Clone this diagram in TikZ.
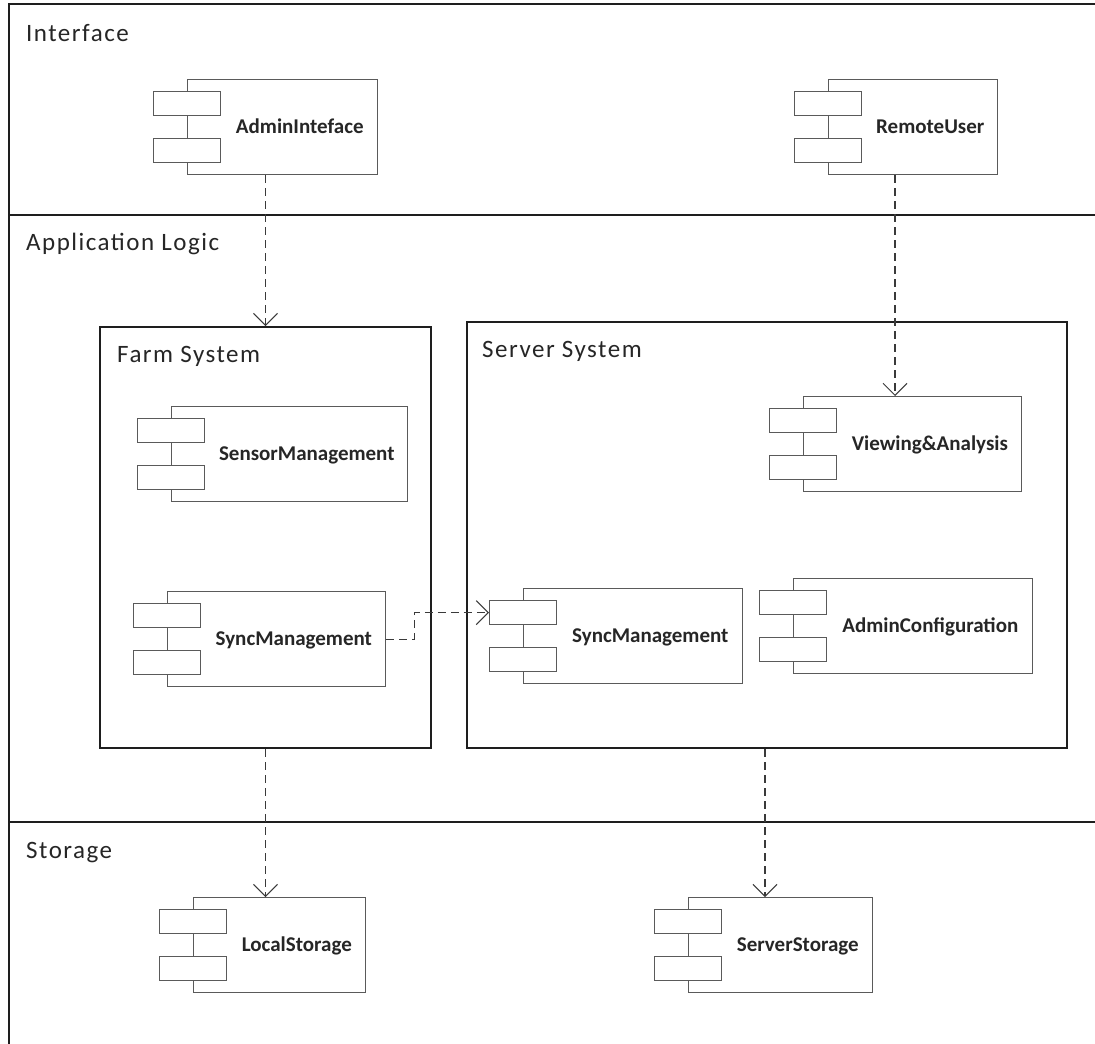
\documentclass[tikz,border=0pt]{standalone}
\usepackage{fontspec}
\setmainfont{Carlito}
\newfontfamily\headfont[LetterSpace=6]{Carlito}
\usetikzlibrary{arrows.meta,calc}
\definecolor{txt}{HTML}{262626}
\definecolor{compgray}{HTML}{5A5A5A}
\definecolor{sysblack}{HTML}{1E1E1E}
\definecolor{conngray}{HTML}{3A3A3A}
\tikzset{
  compbox/.style={draw=compgray, line width=1.3pt, fill=white, inner sep=0pt, minimum height=95pt, anchor=north west},
  portbox/.style={draw=compgray, line width=1.3pt, fill=white, inner sep=0pt, minimum width=67pt, minimum height=24pt, anchor=north west},
  complabel/.style={font=\fontsize{21}{24}\selectfont\bfseries, text=txt, inner sep=0pt, anchor=base},
  sysbox/.style={draw=sysblack, line width=2pt, inner sep=0pt, anchor=north west},
  headlabel/.style={font=\headfont\fontsize{25}{30}\selectfont, text=txt, inner sep=0pt, anchor=base west},
  layerline/.style={draw=sysblack, line width=2pt},
  dep/.style={draw=conngray, line width=1.1pt, dash pattern=on 8pt off 5pt, -{Straight Barb[length=12pt,width=24pt,line width=1pt]}},
}
\newcommand\umlcomp[5]{% name, x, y, width, label
  \node[compbox, minimum width=#4pt] (#1) at (#2,#3) {};
  \node[portbox] (#1-p1) at ($(#1.north west)+(-34,12)$) {};
  \node[portbox] (#1-p2) at ($(#1.north west)+(-34,59)$) {};
  \node[complabel] (#1-lbl) at ($($(#1-p1.east |- #1.center)!0.5!(#1.east)$)+(0,6.8)$) {#5};
}
\begin{document}
\begin{tikzpicture}[x=1pt,y=-1pt]
\useasboundingbox[fill=white] (0,0) rectangle (1095,1044);
% layers
\draw[layerline] (9,1044) -- (9,4) -- (1095,4);
\draw[layerline] (9,215) -- (1095,215);
\draw[layerline] (9,822) -- (1095,822);
\node[headlabel] (hInt) at (26,41) {Interface};
\node[headlabel] (hApp) at (26,250) {Application Logic};
\node[headlabel] (hSto) at (26,858) {Storage};
% systems
\node[sysbox, minimum width=331pt, minimum height=421pt] (fs) at (99,326) {};
\node[sysbox, minimum width=600pt, minimum height=426pt] (ss) at (466,321) {};
\node[headlabel] (hFs) at (117,362) {Farm System};
\node[headlabel] (hSs) at (482,357) {Server System};
% components
\umlcomp{ai}{187}{79}{190}{AdminInteface}
\umlcomp{ru}{828}{79}{169}{RemoteUser}
\umlcomp{sm}{171}{406}{236}{SensorManagement}
\umlcomp{va}{803}{396}{218}{Viewing\&Analysis}
\umlcomp{fsync}{167}{591}{218}{SyncManagement}
\umlcomp{ssync}{523}{588}{219}{SyncManagement}
\umlcomp{ac}{793}{578}{239}{AdminConfiguration}
\umlcomp{ls}{193}{897}{172}{LocalStorage}
\umlcomp{sst}{688}{897}{184}{ServerStorage}
% connectors
\draw[dep] (ai.south -| fs.north) -- (fs.north);
\draw[dep] ($(ru.south west)+(67,0)$) -- ($(va.north west)+(92,0)$);
\draw[dep] (fsync.east) -- ++(28,0) |- (ssync-p1.west);
\draw[dep] (fs.south) -- (ls.north -| fs.south);
\draw[dep] ($(ss.south)+(-2,0)$) -- ($(sst.north -| ss.south)+(-2,0)$);
\end{tikzpicture}
\end{document}
